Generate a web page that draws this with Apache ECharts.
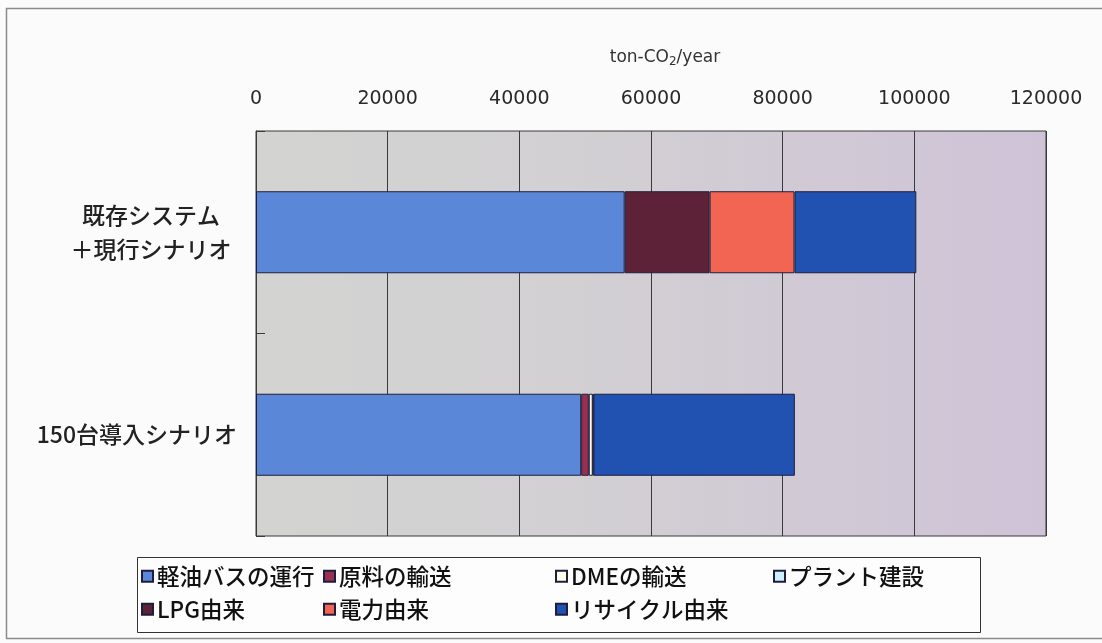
<!DOCTYPE html>
<html>
<head>
<meta charset="utf-8">
<script src="https://cdn.jsdelivr.net/npm/echarts@6/dist/echarts.min.js"></script>
<style>
  html, body { margin: 0; padding: 0; background: #fbfbfb; }
  #chart { width: 1102px; height: 643px; }
</style>
</head>
<body>
<div id="chart"></div>
<script>
// Scenarios (top to bottom)
const categories = ['既存システム\n＋現行シナリオ', '150台導入シナリオ'];

// CO2 emissions by source, ton-CO2/year, one value per scenario
const dieselBus    = [56000, 49400];  // 軽油バスの運行
const feedstock    = [0, 1150];       // 原料の輸送
const dmeTransport = [0, 600];        // DMEの輸送
const plantBuild   = [0, 100];        // プラント建設
const lpgOrigin    = [12900, 0];      // LPG由来
const powerOrigin  = [12900, 0];      // 電力由来
const recycle      = [18500, 30600];  // リサイクル由来

const xTicks = { min: 0, max: 120000, step: 20000 };

const seriesDefs = [
  { name: '軽油バスの運行', data: dieselBus,    color: '#5b87d8' },
  { name: '原料の輸送',     data: feedstock,    color: '#9a3050' },
  { name: 'DMEの輸送',      data: dmeTransport, color: '#fffde8' },
  { name: 'プラント建設',   data: plantBuild,   color: '#cdeeff' },
  { name: 'LPG由来',        data: lpgOrigin,    color: '#5e2238' },
  { name: '電力由来',       data: powerOrigin,  color: '#f26552' },
  { name: 'リサイクル由来', data: recycle,      color: '#2152b2' }
];

const jpFont = '"Noto Sans CJK JP", "Noto Sans", sans-serif';
const numFont = '"DejaVu Sans", "Noto Sans CJK JP", sans-serif';

// Legend grid: two rows, four aligned columns
const legendCols = [141, 323, 555, 773];
const legendRows = [565, 598];

const legends = seriesDefs.map((s, i) => ({
  data: [s.name],
  left: legendCols[i % 4],
  top: legendRows[Math.floor(i / 4)],
  padding: 0,
  itemWidth: 11, itemHeight: 11, itemGap: 0,
  icon: 'rect',
  selectedMode: false,
  textStyle: { fontFamily: jpFont, fontSize: 22.5, fontWeight: 500, color: '#111', padding: [0, 0, 0, -1] }
}));

const chart = echarts.init(document.getElementById('chart'));

chart.setOption({
  backgroundColor: '#fbfbfb',
  animation: false,
  graphic: [
    { type: 'rect', z: -10, silent: true,
      shape: { x: 6.5, y: 8.5, width: 1110, height: 630 },
      style: { fill: 'none', stroke: '#8a8a8a', lineWidth: 1.5 } },
    { type: 'rect', z: -10, silent: true,
      shape: { x: 137.5, y: 557.5, width: 843, height: 75 },
      style: { fill: '#fdfdfd', stroke: '#333', lineWidth: 1 } }
  ],
  grid: {
    left: 256, right: 56, top: 131, bottom: 107,
    show: true,
    borderColor: '#3a3a3a', borderWidth: 1,
    backgroundColor: new echarts.graphic.LinearGradient(0, 0, 1, 0, [
      { offset: 0, color: '#d3d3d1' },
      { offset: 0.4, color: '#d2d0d3' },
      { offset: 1, color: '#cfc3d7' }
    ])
  },
  legend: legends,
  xAxis: {
    type: 'value',
    position: 'top',
    min: xTicks.min, max: xTicks.max, interval: xTicks.step,
    name: 'ton-CO{sub|2}/year',
    nameLocation: 'middle',
    nameGap: 63,
    nameTextStyle: {
      fontFamily: numFont, fontSize: 17, color: '#333',
      padding: [0, 0, 0, 28],
      rich: { sub: { fontFamily: numFont, fontSize: 12, color: '#333', verticalAlign: 'bottom', padding: [9, 0, 0, 0] } }
    },
    axisLine: { show: false },
    axisTick: { show: false },
    axisLabel: {
      fontFamily: numFont, fontSize: 19, color: '#2a2a2a', margin: 22,
      formatter: v => String(v)
    },
    splitLine: { show: true, lineStyle: { color: '#3a3a3a', width: 1 } }
  },
  yAxis: {
    type: 'category',
    inverse: true,
    data: categories,
    axisLine: { show: true, lineStyle: { color: '#3a3a3a', width: 1 } },
    axisTick: { show: true, inside: true, length: 9, lineStyle: { color: '#3a3a3a' } },
    axisLabel: {
      margin: 19,
      fontFamily: jpFont, fontSize: 23, fontWeight: 500, color: '#222',
      formatter: function (v) {
        if (v.indexOf('\n') < 0) return v;
        return v.split('\n').map(line => '{c|' + line + '}').join('\n');
      },
      rich: {
        c: { fontFamily: jpFont, fontSize: 23, fontWeight: 500, color: '#222', width: 172, align: 'center', lineHeight: 34 }
      }
    }
  },
  series: seriesDefs.map(s => ({
    name: s.name,
    type: 'bar',
    stack: 'total',
    barWidth: '40.5%',
    data: s.data.map(v => (v === 0 ? null : v)),
    itemStyle: { color: s.color, borderColor: '#1e1e3c', borderWidth: 1 }
  }))
});
</script>
</body>
</html>
